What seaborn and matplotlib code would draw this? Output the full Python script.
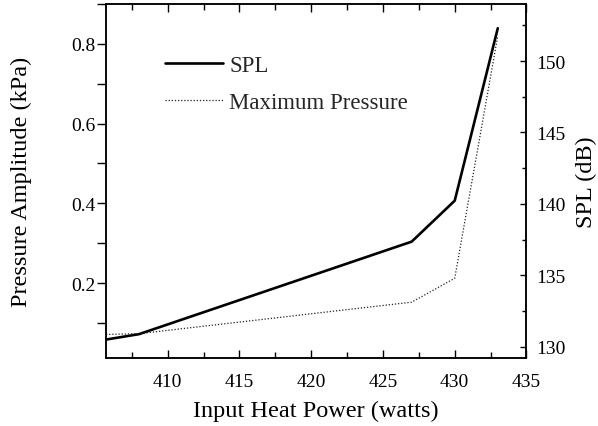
import matplotlib
matplotlib.use("Agg")
import matplotlib.pyplot as plt
from matplotlib.ticker import MultipleLocator
import seaborn as sns
import pandas as pd

sns.set_theme(style="white")
plt.rcParams['font.family'] = ['Liberation Serif', 'DejaVu Serif']

# Data
heat_power = [405.7, 408, 427, 430, 433]
spl_db = [130.49, 130.87, 137.35, 140.22, 152.3]
max_pressure_kpa = [0.071, 0.073, 0.152, 0.212, 0.82]
left_ticks = [0.2, 0.4, 0.6, 0.8]
left_tick_labels = ["0.2", "0.4", "0.6", "0.8"]

df = pd.DataFrame({"power": heat_power, "spl": spl_db, "pmax": max_pressure_kpa})

fig = plt.figure(figsize=(5.98, 4.27), dpi=100)
ax = fig.add_axes([0.1773, 0.1593, 0.7031, 0.8290])
ax2 = ax.twinx()

sns.lineplot(data=df, x="power", y="pmax", ax=ax, color="#222222", linestyle=(0, (1, 1.5)),
             linewidth=0.9, label="Maximum Pressure", legend=False)
sns.lineplot(data=df, x="power", y="spl", ax=ax2, color="black", linewidth=1.9,
             label="SPL", legend=False)

ax.set_xlim(405.7, 435)
ax.set_ylim(0.012, 0.9)
ax2.set_ylim(129.2, 154)

ax.xaxis.set_major_locator(MultipleLocator(5))
ax.xaxis.set_minor_locator(MultipleLocator(2.5))
ax.set_yticks(left_ticks)
ax.set_yticklabels(left_tick_labels)
ax.yaxis.set_minor_locator(MultipleLocator(0.1))
ax2.yaxis.set_major_locator(MultipleLocator(5))
ax2.yaxis.set_minor_locator(MultipleLocator(2.5))

for a in (ax, ax2):
    for s in a.spines.values():
        s.set_linewidth(1.1)
        s.set_color("black")

ax.tick_params(axis="x", which="both", direction="in", top=True, bottom=True,
               labelsize=14, colors="black", width=1.0, pad=11)
ax.tick_params(axis="x", which="major", length=5.5)
ax.tick_params(axis="x", which="minor", length=4)
ax.tick_params(axis="y", which="both", direction="out", left=True, labelsize=14,
               colors="black", width=1.0, pad=1)
ax.tick_params(axis="y", which="major", length=6.5)
ax.tick_params(axis="y", which="minor", length=6.5)
ax2.tick_params(axis="y", which="both", direction="in", right=True, labelsize=14,
                colors="black", width=1.0, pad=7)
ax2.tick_params(axis="y", which="major", length=4)
ax2.tick_params(axis="y", which="minor", length=3)

ax.set_xlabel("Input Heat Power (watts)", fontsize=17.5, color="black")
ax.set_ylabel("Pressure Amplitude (kPa)", fontsize=17.5, color="black")
ax2.set_ylabel("SPL (dB)", fontsize=17.5, color="black")
ax.xaxis.set_label_coords(0.5, -0.119)
ax.yaxis.set_label_coords(-0.175, 0.5)
ax2.yaxis.set_label_coords(1.117, 0.5)

h1, l1 = ax2.get_legend_handles_labels()
h2, l2 = ax.get_legend_handles_labels()
leg = ax.legend(h1 + h2, l1 + l2, loc="upper left", bbox_to_anchor=(0.1403, 0.855),
                frameon=False, fontsize=16.5, handlelength=2.53, handletextpad=0.27,
                labelspacing=0.7, borderpad=0, borderaxespad=0)
ax.set_zorder(ax2.get_zorder() + 1)
ax.patch.set_visible(False)

fig.savefig("out.png", dpi=100)
